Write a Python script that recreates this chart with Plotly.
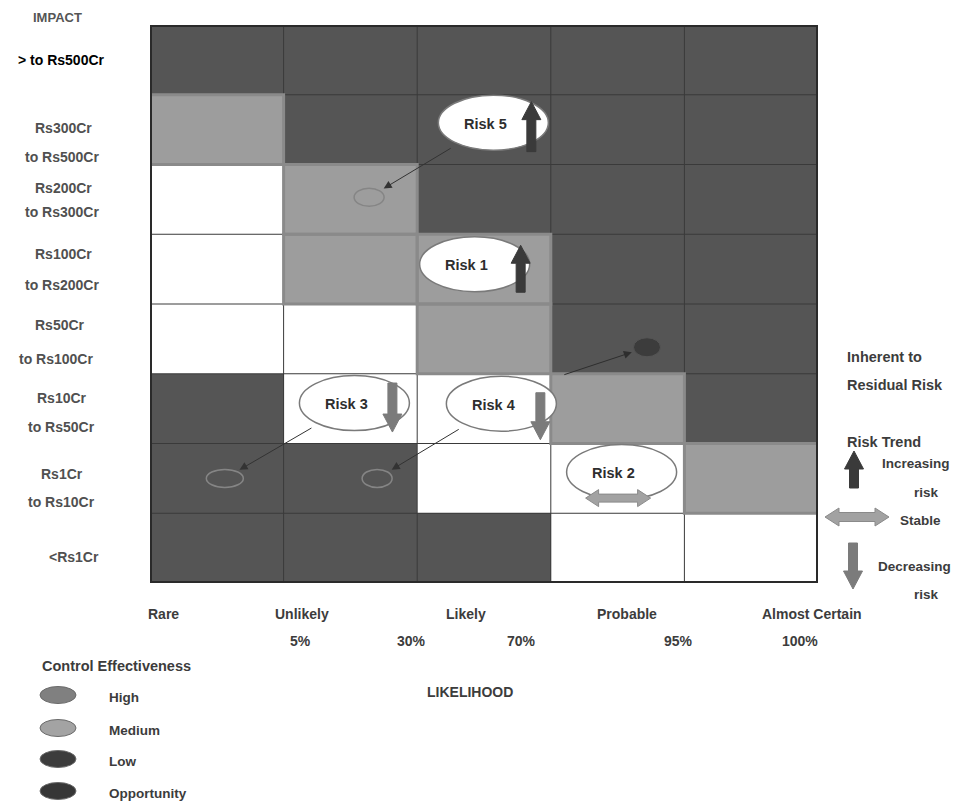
import plotly.graph_objects as go

# ---------------- data ----------------
likelihood_labels = ["Rare", "Unlikely", "Likely", "Probable", "Almost Certain"]
likelihood_pcts = ["5%", "30%", "70%", "95%", "100%"]
impact_lines = [
    ["> to Rs500Cr"],
    ["Rs300Cr", "to Rs500Cr"],
    ["Rs200Cr", "to Rs300Cr"],
    ["Rs100Cr", "to Rs200Cr"],
    ["Rs50Cr", "to Rs100Cr"],
    ["Rs10Cr", "to Rs50Cr"],
    ["Rs1Cr", "to Rs10Cr"],
    ["<Rs1Cr"],
]
# cell rating, rows from bottom (<Rs1Cr) to top (> Rs500Cr); 0 low, 1 medium, 2 high
cell_rating = [
    [2, 2, 2, 0, 0],
    [2, 2, 0, 0, 1],
    [2, 0, 0, 1, 2],
    [0, 0, 1, 2, 2],
    [0, 1, 1, 2, 2],
    [0, 1, 2, 2, 2],
    [1, 2, 2, 2, 2],
    [2, 2, 2, 2, 2],
]
risk_names = ["Risk 1", "Risk 2", "Risk 3", "Risk 4", "Risk 5"]
inherent_x = [2.43, 3.53, 1.53, 2.63, 2.57]
inherent_y = [4.57, 1.59, 2.58, 2.57, 6.60]
residual_x = [None, None, 0.56, 1.70, 1.64]
residual_y = [None, None, 1.50, 1.50, 5.53]
risk_trend = ["up", "stable", "down", "down", "up"]
opp_from = (3.09, 2.98)
opp_to = (3.72, 3.38)
control_levels = ["High", "Medium", "Low", "Opportunity"]

# ---------------- layout helpers ----------------
W, H = 962, 805
OFF = 8  # page body margin
L, R, T, B = 150, 818, 25, 583


def px(x):
    return (x - L) / (R - L)


def py(y):
    return (B - y) / (B - T)


FONT = "Arial, Liberation Sans, sans-serif"
TXT = "#3c3c3c"

fig = go.Figure()
nrows, ncols = len(cell_rating), len(cell_rating[0])
fig.add_trace(go.Heatmap(
    x=[c + 0.5 for c in range(ncols)],
    y=[r + 0.5 for r in range(nrows)],
    z=cell_rating, zmin=0, zmax=2,
    colorscale=[[0, "#ffffff"], [0.5, "#9d9d9d"], [1, "#555555"]],
    showscale=False, hoverinfo="skip", xgap=0, ygap=0,
))

shapes = []
for c in range(1, ncols):
    shapes.append(dict(type="line", xref="x", yref="y", x0=c, x1=c, y0=0, y1=nrows,
                       line=dict(color="#3a3a3a", width=1)))
for r in range(1, nrows):
    shapes.append(dict(type="line", xref="x", yref="y", x0=0, x1=ncols, y0=r, y1=r,
                       line=dict(color="#3a3a3a", width=1)))
for r in range(nrows):
    for c in range(ncols):
        if cell_rating[r][c] == 1:
            shapes.append(dict(type="rect", xref="x", yref="y", x0=c, x1=c + 1, y0=r, y1=r + 1,
                               line=dict(color="#8a8a8a", width=3)))
shapes.append(dict(type="rect", xref="x", yref="y", x0=0, x1=ncols, y0=0, y1=nrows,
                   line=dict(color="#2a2a2a", width=4)))


def ellipse(x, y, w, h, fill, line, lw=1.5, xref="x", yref="y"):
    return dict(type="circle", xref=xref, yref=yref, xsizemode="pixel", ysizemode="pixel",
                xanchor=x, yanchor=y, x0=-w / 2, x1=w / 2, y0=-h / 2, y1=h / 2,
                fillcolor=fill, line=dict(color=line, width=lw))


def up_path(cx, yb, yt, sw=4.5, hw=9.5, hl=18):
    return (f"M{cx-sw},{yb} L{cx-sw},{yt-hl} L{cx-hw},{yt-hl} L{cx},{yt} "
            f"L{cx+hw},{yt-hl} L{cx+sw},{yt-hl} L{cx+sw},{yb} Z")


def down_path(cx, yt, yb, sw=4.5, hw=9.5, hl=18):
    return (f"M{cx-sw},{yt} L{cx-sw},{yb+hl} L{cx-hw},{yb+hl} L{cx},{yb} "
            f"L{cx+hw},{yb+hl} L{cx+sw},{yb+hl} L{cx+sw},{yt} Z")


def stable_path(xl, xr, y, sh=4, hh=8.5, hl=13):
    return (f"M{xl},{y} L{xl+hl},{y+hh} L{xl+hl},{y+sh} L{xr-hl},{y+sh} L{xr-hl},{y+hh} "
            f"L{xr},{y} L{xr-hl},{y-hh} L{xr-hl},{y-sh} L{xl+hl},{y-sh} L{xl+hl},{y-hh} Z")


def pshape(x, y, path, fill, xref="x", yref="y", line=None):
    return dict(type="path", xref=xref, yref=yref, xsizemode="pixel", ysizemode="pixel",
                xanchor=x, yanchor=y, path=path, fillcolor=fill,
                line=dict(color=line or fill, width=1))


def ptext(x, y, text, size=14.5, color=TXT, xanchor="center"):
    return dict(x=px(x), y=py(y), xref="paper", yref="paper", text=text, showarrow=False,
                xanchor=xanchor, yanchor="middle", font=dict(family=FONT, size=size, color=color))


UP_C, DOWN_C, STAB_C = "#3a3a3a", "#7b7b7b", "#a2a2a2"
# arrow placement (pixels relative to ellipse centre, y up positive)
arrow_geom = {
    "Risk 1": (46, -28, 19),
    "Risk 5": (38, -29, 21),
    "Risk 3": (38, 20, -29),
    "Risk 4": (39, 11, -36),
    "Risk 2": (-36, 29, -26),
}
ann = []
for i, name in enumerate(risk_names):
    x, y = inherent_x[i], inherent_y[i]
    shapes.append(ellipse(x, y, 110, 55, "#ffffff", "#7a7a7a"))
    g = arrow_geom[name]
    if risk_trend[i] == "up":
        shapes.append(pshape(x, y, up_path(g[0], g[1], g[2]), UP_C))
    elif risk_trend[i] == "down":
        shapes.append(pshape(x, y, down_path(g[0], g[1], g[2]), DOWN_C))
    else:
        shapes.append(pshape(x, y, stable_path(g[0], g[1], g[2]), STAB_C, line="#8a8a8a"))
    ann.append(dict(x=x, y=y, xref="x", yref="y", text=f"<b>{name}</b>", showarrow=False,
                    xshift=-8, yshift=-1, font=dict(family=FONT, size=14.5, color="#2e2e2e")))
    if residual_x[i] is not None:
        rx, ry = residual_x[i], residual_y[i]
        shapes.append(ellipse(rx, ry, 30 if i != 2 else 37, 18, "rgba(0,0,0,0)", "#858585", 1.5))
        ann.append(dict(x=rx, y=ry, ax=x, ay=y, xref="x", yref="y", axref="x", ayref="y",
                        text="", showarrow=True, arrowhead=2, arrowsize=1.6, arrowwidth=1,
                        arrowcolor="#333333", standoff=17, startstandoff=48))

# opportunity
shapes.append(ellipse(opp_to[0], opp_to[1], 27, 19, "#3c3c3c", "#555555", 1))
ann.append(dict(x=opp_to[0], y=opp_to[1], ax=opp_from[0], ay=opp_from[1], xref="x", yref="y",
                axref="x", ayref="y", text="", showarrow=True, arrowhead=2, arrowsize=1.6,
                arrowwidth=1, arrowcolor="#2e2e2e", standoff=16))

# ---- impact labels ----
impact_line_y = [[60], [128, 157], [188, 212], [254, 285], [325, 359], [398, 427], [474, 502], [557]]
impact_line_x = [[62], [63, 62], [63, 62], [63, 62], [60, 56], [62, 62], [62, 62], [74]]
ann.append(ptext(57, 17, "<b>IMPACT</b>", size=13, color="#555555"))
for k, lines in enumerate(impact_lines):
    for j, t in enumerate(lines):
        col = "#000000" if k == 0 else "#505050"
        ann.append(ptext(impact_line_x[k][j], impact_line_y[k][j],
                         f"<b>{t.replace('<', '&lt;')}</b>", size=14, color=col))

# ---- likelihood labels ----
lik_x = [163, 302, 466, 627, 812]
pct_x = [300, 411, 521, 678, 800]
for t, xx in zip(likelihood_labels, lik_x):
    ann.append(ptext(xx, 614, f"<b>{t}</b>", size=14))
for t, xx in zip(likelihood_pcts, pct_x):
    ann.append(ptext(xx, 641, f"<b>{t}</b>", size=14))
ann.append(ptext(470, 692, "<b>LIKELIHOOD</b>", size=14))

# ---- control effectiveness legend ----
ann.append(ptext(40, 666, "<b>Control Effectiveness</b>", size=14.5, xanchor="left"))
legend_fill = ["#808080", "#a3a3a3", "#3c3c3c", "#363636"]
legend_y = [695, 728, 759, 791]
for lvl, fc, yy in zip(control_levels, legend_fill, legend_y):
    shapes.append(ellipse(px(58), py(yy), 36, 17, fc, "#6a6a6a", 1, xref="paper", yref="paper"))
    ann.append(ptext(107, yy + 2, f"<b>{lvl}</b>", size=13.5, xanchor="left"))

# ---- right legend ----
for t, yy in [("Inherent to", 357), ("Residual Risk", 385), ("Risk Trend", 442)]:
    ann.append(ptext(845, yy, f"<b>{t}</b>", xanchor="left"))
for t, xx, yy in [("Increasing", 916, 463), ("risk", 926, 492), ("Stable", 921, 520),
                  ("Decreasing", 914, 566), ("risk", 926, 594)]:
    ann.append(ptext(xx, yy, f"<b>{t}</b>", size=13.5))
shapes.append(pshape(px(854), py(488), up_path(0, 0, 37), UP_C, xref="paper", yref="paper"))
shapes.append(pshape(px(857), py(517), stable_path(-32, 32, 0, sh=4.5, hh=9, hl=14), STAB_C,
                     xref="paper", yref="paper", line="#8a8a8a"))
shapes.append(pshape(px(853), py(543), down_path(0, 0, -46), DOWN_C, xref="paper", yref="paper"))

fig.update_layout(
    width=W, height=H,
    margin=dict(l=L - OFF, r=W - R + OFF, t=T - OFF, b=H - B + OFF, pad=0),
    paper_bgcolor="#ffffff", plot_bgcolor="#ffffff",
    xaxis=dict(range=[0, ncols], showgrid=False, zeroline=False, showticklabels=False,
               ticks="", fixedrange=True),
    yaxis=dict(range=[0, nrows], showgrid=False, zeroline=False, showticklabels=False,
               ticks="", fixedrange=True),
    shapes=shapes, annotations=ann, showlegend=False,
)
fig.write_html("out.html")
